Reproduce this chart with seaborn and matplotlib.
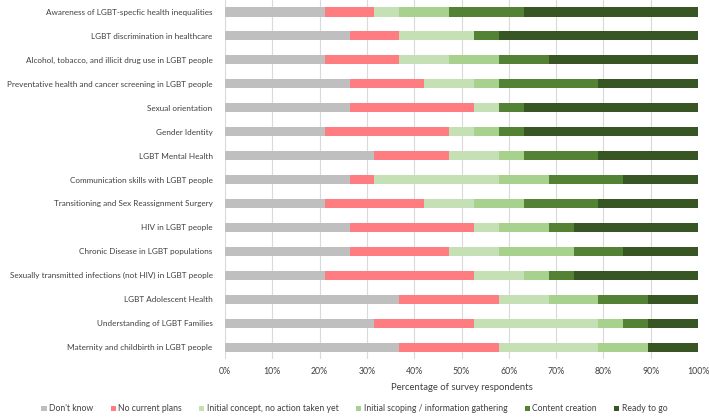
import numpy as np
import pandas as pd
import matplotlib.pyplot as plt
import seaborn as sns
from matplotlib.patches import Patch
from matplotlib.ticker import FuncFormatter

# Survey topics (top to bottom) and respondent counts per readiness stage (n = 19)
topics = [
    "Awareness of LGBT-specfic health inequalities",
    "LGBT discrimination in healthcare",
    "Alcohol, tobacco, and illicit drug use in LGBT people",
    "Preventative health and cancer screening in LGBT people",
    "Sexual orientation",
    "Gender Identity",
    "LGBT Mental Health",
    "Communication skills with LGBT people",
    "Transitioning and Sex Reassignment Surgery",
    "HIV in LGBT people",
    "Chronic Disease in LGBT populations",
    "Sexually transmitted infections (not HIV) in LGBT people",
    "LGBT Adolescent Health",
    "Understanding of LGBT Families",
    "Maternity and childbirth in LGBT people",
]
stages = [
    "Don't know",
    "No current plans",
    "Initial concept, no action taken yet",
    "Initial scoping / information gathering",
    "Content creation",
    "Ready to go",
]
dont_know = [4, 5, 4, 5, 5, 4, 6, 5, 4, 5, 5, 4, 7, 6, 7]
no_plans = [2, 2, 3, 3, 5, 5, 3, 1, 4, 5, 4, 6, 4, 4, 4]
initial_concept = [1, 3, 2, 2, 1, 1, 2, 5, 2, 1, 2, 2, 2, 5, 4]
initial_scoping = [2, 0, 2, 1, 0, 1, 1, 2, 2, 2, 3, 1, 2, 1, 2]
content_creation = [3, 1, 2, 4, 1, 1, 3, 3, 3, 1, 2, 1, 2, 1, 0]
ready_to_go = [7, 8, 6, 4, 7, 7, 4, 3, 4, 5, 3, 5, 2, 2, 2]

colors = ["#BFBFBF", "#FF7C80", "#C5E0B4", "#A9D18E", "#548235", "#375623"]

counts = pd.DataFrame(
    np.column_stack([dont_know, no_plans, initial_concept,
                     initial_scoping, content_creation, ready_to_go]),
    index=topics, columns=stages,
)
pct = counts.div(counts.sum(axis=1), axis=0) * 100
cum = pct.cumsum(axis=1)

sns.set_theme(style="white")
plt.rcParams["font.family"] = ["Lato", "DejaVu Sans"]

fig = plt.figure(figsize=(7.09, 4.17), dpi=100)
ax = fig.add_axes([0.3174, 0.139, 0.6671, 0.861])

# draw largest cumulative first so shorter segments sit on top
for stage, color in reversed(list(zip(stages, colors))):
    sns.barplot(x=cum[stage].values, y=topics, orient="h", color=color,
                saturation=1, width=0.38, linewidth=0, ax=ax)

ax.set_xlim(0, 100)
ax.set_xticks(np.arange(0, 101, 10))
ax.xaxis.set_major_formatter(FuncFormatter(lambda v, _: f"{v:.0f}%"))
ax.grid(axis="x", color="#D9D9D9", linewidth=0.8)
ax.set_axisbelow(True)
for s in ax.spines.values():
    s.set_visible(False)
ax.tick_params(axis="x", length=0, labelsize=6.3, colors="#404040", pad=6)
ax.tick_params(axis="y", length=0, labelsize=5.9, colors="#404040", pad=9)
ax.set_xlabel("Percentage of survey respondents", fontsize=6.8, color="#404040", labelpad=5)
ax.set_ylabel("")

handles = [Patch(facecolor=c, edgecolor="none") for c in colors]
fig.legend(handles, stages, loc="lower center", bbox_to_anchor=(0.5, -0.01), ncol=6,
           frameon=False, fontsize=6.2, handlelength=0.6, handleheight=0.6,
           handletextpad=0.3, columnspacing=2.0, labelcolor="#404040")

fig.savefig("out.png", dpi=100)
